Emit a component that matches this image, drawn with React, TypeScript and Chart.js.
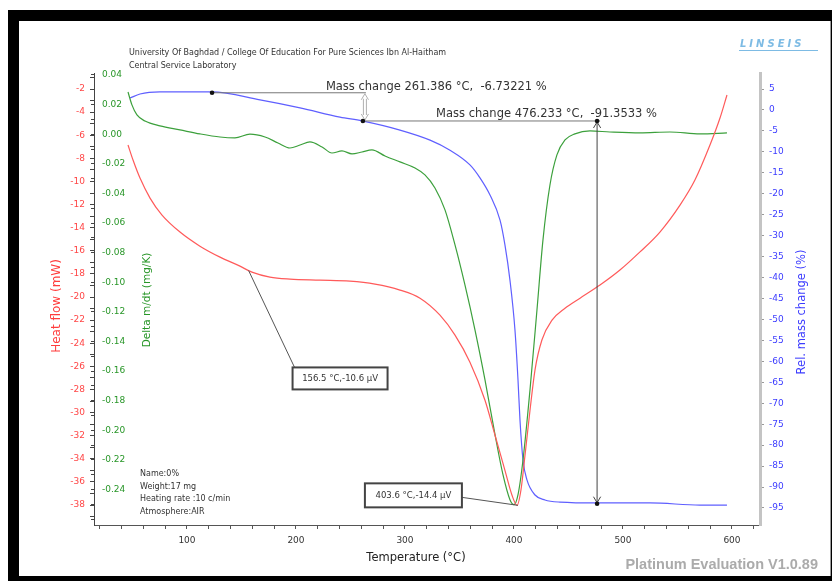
import React, { useEffect, useRef } from 'react';
import { Chart, registerables } from 'chart.js';
Chart.register(...registerables);

// ---- Data ----
const tempRed = [45.9, 50.5, 56.9, 66.1, 77.1, 93.6, 111.9, 130.3, 148.6, 159.6, 176.1, 194.5, 222, 249.5, 272.5, 295.4, 313.8, 332.1, 345.9, 359.6, 373.4, 382.6, 391.7, 398.2, 402.8, 406.4, 410.1, 414.7, 419.3, 425.7, 434.9, 446.8, 460.6, 478.9, 497.2, 515.6, 533.9, 552.3, 566, 579.8, 589, 595.4];
const heatRed = [-6.85, -8.15, -9.71, -11.44, -12.91, -14.38, -15.6, -16.55, -17.33, -17.85, -18.28, -18.45, -18.54, -18.63, -18.89, -19.4, -20.1, -21.57, -23.3, -25.64, -28.93, -31.96, -35, -37.16, -38.03, -36.7, -33.7, -29.8, -26.3, -23.7, -22, -20.97, -20.1, -18.97, -17.67, -16.1, -14.38, -12.05, -9.88, -6.85, -4.51, -2.52];

const tempGreen = [45.9, 49.5, 54.1, 61.5, 75.2, 93.6, 111.9, 130.3, 144, 157.8, 171.6, 183.5, 194.5, 203.7, 212.8, 223.9, 233, 242.2, 251.4, 260.6, 269.7, 281.7, 295.4, 309.2, 318.3, 327.5, 336.7, 345.9, 355, 364.2, 373.4, 382.6, 389.9, 396.3, 400, 403.7, 408.3, 414.7, 421.1, 426.6, 433, 439.4, 446.8, 455.9, 469.7, 488, 515.6, 543.1, 570.6, 595.4];
const dtgGreen = [0.0285, 0.0198, 0.013, 0.0089, 0.0056, 0.0029, 0.0002, -0.0019, -0.0025, 0.0, -0.0019, -0.0059, -0.0093, -0.0073, -0.0052, -0.0086, -0.0127, -0.0113, -0.0133, -0.012, -0.0106, -0.0147, -0.0187, -0.0228, -0.0275, -0.0363, -0.0511, -0.0748, -0.1018, -0.1321, -0.1659, -0.203, -0.23, -0.2469, -0.2503, -0.2435, -0.2199, -0.1726, -0.1186, -0.0714, -0.0343, -0.014, -0.0039, 0.0002, 0.0022, 0.0015, 0.0009, 0.0015, 0.0002, 0.0009];

const tempBlue = [47.7, 56.9, 75.2, 122.9, 167, 203.7, 240.4, 260.6, 295.4, 323, 341.3, 359.6, 368.8, 378, 387.2, 391.7, 396.3, 400.9, 403.7, 405.5, 408.3, 411.9, 419.3, 428.4, 442.2, 477, 524.8, 570.6, 595.4];
const massBlue = [2.85, 3.8, 4.3, 4.3, 2.4, 0.5, -1.7, -2.6, -4.8, -7.2, -9.6, -13.1, -16.2, -20.3, -26.3, -32.2, -40.6, -52.5, -64.5, -74, -83.6, -88.3, -91.9, -93.1, -93.6, -93.8, -93.8, -94.3, -94.3];

// mass-change evaluation points (temperature, rel. mass %)
const massMarkT = [123, 261.386, 476.233];
const massMarkV = [4.1, -2.63, -93.98];
const massLabels = ['Mass change 261.386 \u00B0C,  -6.73221 %', 'Mass change 476.233 \u00B0C,  -91.3533 %'];

// DSC peak evaluation points (temperature, heat flow mW)
const peakT = [156.5, 403.6];
const peakV = [-17.7, -38.03];
const peakLabels = ['156.5 \u00B0C,-10.6 \u00B5V', '403.6 \u00B0C,-14.4 \u00B5V'];

const headerLines = ['University Of Baghdad / College Of Education For Pure Sciences Ibn Al-Haitham', 'Central Service Laboratory'];
const infoLines = ['Name:0%', 'Weight:17 mg', 'Heating rate :10 c/min', 'Atmosphere:AIR'];

const RED = 'rgb(255,90,90)';
const GREEN = 'rgb(60,160,60)';
const BLUE = 'rgb(95,95,255)';
const FONT = "'DejaVu Sans', sans-serif";

function arrowHead(ctx: CanvasRenderingContext2D, x: number, y: number, dir: number, size: number) {
  ctx.beginPath();
  ctx.moveTo(x - size * 0.6, y - dir * size);
  ctx.lineTo(x, y);
  ctx.lineTo(x + size * 0.6, y - dir * size);
  ctx.stroke();
}

const overlay = {
  id: 'overlay',
  beforeDraw(chart: any) {
    const { ctx } = chart;
    ctx.save();
    ctx.fillStyle = '#fff';
    ctx.fillRect(0, 0, 832, 581);
    ctx.fillStyle = '#000';
    ctx.fillRect(8, 10, 824, 571);
    ctx.fillStyle = '#fff';
    ctx.fillRect(19, 21, 811, 555);
    ctx.fillStyle = '#9a9a9a';
    ctx.fillRect(830, 21, 1, 555);
    ctx.restore();
  },
  afterDraw(chart: any) {
    const { ctx } = chart;
    const xs = chart.scales.x;
    const yb = chart.scales.yBlue;
    const yr = chart.scales.yRed;
    const area = chart.chartArea;
    ctx.save();

    // header
    ctx.fillStyle = '#333';
    ctx.font = `8px ${FONT}`;
    ctx.textBaseline = 'middle';
    ctx.textAlign = 'left';
    ctx.fillText(headerLines[0], 129, 53);
    ctx.fillText(headerLines[1], 129, 66);

    // logo
    ctx.save();
    ctx.fillStyle = '#7dbbe4';
    ctx.font = `italic bold 10px ${FONT}`;
    ctx.textAlign = 'left';
    (ctx as any).letterSpacing = '3px';
    ctx.fillText('LINSEIS', 740, 44);
    ctx.restore();
    ctx.fillStyle = '#7dbbe4';
    ctx.fillRect(739, 50, 79, 1);

    // info block
    ctx.fillStyle = '#333';
    ctx.font = `8px ${FONT}`;
    ctx.textAlign = 'left';
    infoLines.forEach((s, i) => ctx.fillText(s, 140, 474 + i * 12.5));

    // axis titles
    const midY = (area.top + area.bottom) / 2;
    ctx.textAlign = 'center';
    ctx.save();
    ctx.translate(57, midY + 7);
    ctx.rotate(-Math.PI / 2);
    ctx.fillStyle = 'rgb(255,60,60)';
    ctx.font = `12px ${FONT}`;
    ctx.fillText('Heat flow (mW)', 0, 0);
    ctx.restore();

    ctx.save();
    ctx.translate(147, midY + 1);
    ctx.rotate(-Math.PI / 2);
    ctx.fillStyle = 'rgb(40,150,40)';
    ctx.font = `10.5px ${FONT}`;
    ctx.fillText('Delta m/dt (mg/K)', 0, 0);
    ctx.restore();

    ctx.save();
    ctx.translate(802, midY + 13);
    ctx.rotate(-Math.PI / 2);
    ctx.fillStyle = 'rgb(60,60,255)';
    ctx.font = `11.5px ${FONT}`;
    ctx.fillText('Rel. mass change (%)', 0, 0);
    ctx.restore();

    ctx.fillStyle = '#222';
    ctx.font = `11.5px ${FONT}`;
    ctx.fillText('Temperature (\u00B0C)', 416, 558);

    ctx.fillStyle = '#ababab';
    ctx.font = "bold 14.5px 'Liberation Sans', Arial, sans-serif";
    ctx.textAlign = 'right';
    ctx.fillText('Platinum Evaluation V1.0.89', 818, 565);

    // mass change annotations
    const mx = massMarkT.map((t) => xs.getPixelForValue(t));
    const my = massMarkV.map((v) => yb.getPixelForValue(v));
    ctx.strokeStyle = '#777';
    ctx.lineWidth = 1;
    ctx.beginPath();
    ctx.moveTo(mx[0], my[0]);
    ctx.lineTo(mx[1] + 3, my[0]);
    ctx.moveTo(mx[1], my[1]);
    ctx.lineTo(mx[2] + 3, my[1]);
    ctx.stroke();

    // light double arrow for first step
    ctx.strokeStyle = '#b0b0b0';
    ctx.lineWidth = 1;
    const ax = mx[1] + 2;
    ctx.beginPath();
    ctx.moveTo(ax - 1.5, my[0] + 6);
    ctx.lineTo(ax - 1.5, my[1] - 6);
    ctx.moveTo(ax + 1.5, my[0] + 6);
    ctx.lineTo(ax + 1.5, my[1] - 6);
    ctx.stroke();
    arrowHead(ctx, ax, my[0] + 1, -1, 6);
    arrowHead(ctx, ax, my[1] - 1, 1, 6);

    // second step arrow
    ctx.strokeStyle = '#444';
    ctx.beginPath();
    ctx.moveTo(mx[2], my[1]);
    ctx.lineTo(mx[2], my[2]);
    ctx.stroke();
    arrowHead(ctx, mx[2], my[1] + 1, -1, 6);
    arrowHead(ctx, mx[2], my[2] - 1, 1, 6);

    // markers
    ctx.fillStyle = '#111';
    const pts = [[mx[0], my[0]], [mx[1], my[1]], [mx[2], my[1]], [mx[2], my[2]]];
    pts.forEach(([x, y]) => {
      ctx.beginPath();
      ctx.arc(x, y, 2.3, 0, Math.PI * 2);
      ctx.fill();
    });

    ctx.fillStyle = '#333';
    ctx.font = `11.5px ${FONT}`;
    ctx.textAlign = 'left';
    ctx.textBaseline = 'alphabetic';
    ctx.fillText(massLabels[0], mx[1] - 37, my[0] - 3);
    ctx.fillText(massLabels[1], mx[2] - 161, my[1] - 4);

    // DSC peak boxes
    const p0x = xs.getPixelForValue(peakT[0]);
    const p0y = yr.getPixelForValue(peakV[0]);
    const p1x = xs.getPixelForValue(peakT[1]);
    const p1y = yr.getPixelForValue(peakV[1]);
    ctx.font = `8.5px ${FONT}`;
    ctx.textBaseline = 'middle';
    ctx.textAlign = 'center';

    const b0 = { x: p0x + 44, y: p0y + 97, w: 95, h: 22 };
    const b1 = { x: p1x - 153, y: p1y - 22, w: 97, h: 24 };
    ctx.strokeStyle = '#555';
    ctx.lineWidth = 1;
    ctx.beginPath();
    ctx.moveTo(p0x, p0y);
    ctx.lineTo(b0.x + 2, b0.y);
    ctx.moveTo(b1.x + b1.w, b1.y + b1.h / 2 + 2);
    ctx.lineTo(p1x, p1y);
    ctx.stroke();

    [b0, b1].forEach((b, i) => {
      ctx.fillStyle = '#fff';
      ctx.fillRect(b.x, b.y, b.w, b.h);
      ctx.strokeStyle = '#444';
      ctx.lineWidth = 2;
      ctx.strokeRect(b.x, b.y, b.w, b.h);
      ctx.fillStyle = '#333';
      ctx.fillText(peakLabels[i], b.x + b.w / 2, b.y + b.h / 2 + 0.5);
    });

    ctx.restore();
  },
};

export default function App() {
  const ref = useRef<HTMLCanvasElement>(null);
  useEffect(() => {
    const tickFont = { family: FONT, size: 9 };
    const chart = new Chart(ref.current as HTMLCanvasElement, {
      type: 'line',
      data: {
        datasets: [
          {
            label: 'Heat flow',
            data: tempRed.map((t, i) => ({ x: t, y: heatRed[i] })),
            yAxisID: 'yRed',
            borderColor: RED,
            borderWidth: 1.2,
            pointRadius: 0,
            cubicInterpolationMode: 'monotone',
          },
          {
            label: 'Delta m/dt',
            data: tempGreen.map((t, i) => ({ x: t, y: dtgGreen[i] })),
            yAxisID: 'yGreen',
            borderColor: GREEN,
            borderWidth: 1.2,
            pointRadius: 0,
            cubicInterpolationMode: 'monotone',
          },
          {
            label: 'Rel. mass change',
            data: tempBlue.map((t, i) => ({ x: t, y: massBlue[i] })),
            yAxisID: 'yBlue',
            borderColor: BLUE,
            borderWidth: 1.2,
            pointRadius: 0,
            cubicInterpolationMode: 'monotone',
          },
        ],
      },
      options: {
        responsive: false,
        animation: false,
        layout: { padding: { left: 20, top: 73, right: 12, bottom: 0 } },
        plugins: { legend: { display: false }, tooltip: { enabled: false } },
        scales: {
          x: {
            type: 'linear',
            position: 'bottom',
            min: 14.7,
            max: 625.7,
            afterFit: (s: any) => { s.height = 56; },
            grid: { drawOnChartArea: false, tickLength: 4, color: '#555' },
            border: { color: '#555', width: 1 },
            ticks: {
              stepSize: 20,
              autoSkip: false,
              maxRotation: 0,
              includeBounds: false,
              padding: 6,
              color: '#333',
              font: tickFont,
              callback: (v: any) => (Math.round(v) % 100 === 0 ? String(Math.round(v)) : ''),
            },
          },
          yRed: {
            type: 'linear',
            position: 'left',
            weight: 1,
            min: -39.73,
            max: -0.615,
            afterFit: (s: any) => { s.width = 74; },
            grid: { drawOnChartArea: false, tickLength: 4, color: '#444' },
            border: { color: '#444', width: 1 },
            ticks: {
              stepSize: 1,
              autoSkip: false,
              includeBounds: false,
              padding: 5,
              color: 'rgb(255,70,70)',
              font: tickFont,
              callback: (v: any) => (Math.round(v) % 2 === 0 ? String(Math.round(v)) : ''),
            },
          },
          yGreen: {
            type: 'linear',
            position: 'left',
            weight: 0,
            min: -0.264,
            max: 0.04135,
            afterFit: (s: any) => { s.width = 0; },
            grid: { drawOnChartArea: false, tickLength: 3, color: '#444' },
            border: { color: '#444', width: 1 },
            ticks: {
              stepSize: 0.01,
              autoSkip: false,
              includeBounds: false,
              mirror: true,
              padding: 8,
              color: 'rgb(40,150,40)',
              font: tickFont,
              callback: (v: any) => {
                const k = Math.round(v * 100);
                return k % 2 === 0 && k >= -24 ? (k / 100).toFixed(2) : '';
              },
            },
          },
          yBlue: {
            type: 'linear',
            position: 'right',
            min: -99.06,
            max: 8.82,
            afterFit: (s: any) => { s.width = 60; },
            grid: { drawOnChartArea: false, tickLength: 4, color: '#999' },
            border: { color: '#c4c4c4', width: 3 },
            ticks: {
              stepSize: 5,
              autoSkip: false,
              includeBounds: false,
              padding: 5,
              color: 'rgb(60,60,255)',
              font: tickFont,
              callback: (v: any) => String(Math.round(v)),
            },
          },
        },
      } as any,
      plugins: [overlay],
    });
    return () => chart.destroy();
  }, []);
  return (
    <div style={{ position: 'fixed', left: 0, top: 0, width: 832, height: 581, background: '#fff' }}>
      <canvas ref={ref} width={832} height={581} style={{ display: 'block', width: 832, height: 581 }} />
    </div>
  );
}
